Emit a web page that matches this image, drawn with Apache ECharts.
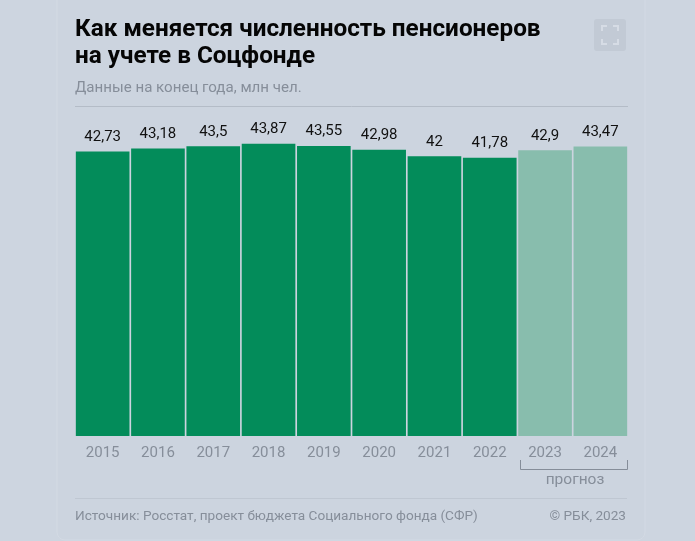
<!DOCTYPE html>
<html lang="ru">

<head>
    <meta charset="UTF-8">
    <title>Как меняется численность пенсионеров на учете в Соцфонде</title>
    <script src="https://cdn.jsdelivr.net/npm/echarts@6/dist/echarts.min.js"></script>
    <style>
        body,
        html {
            margin: 0;
            padding: 0;
            height: 100%;
            background: #cdd5e0;
        }

        #main {
            width: 695px;
            height: 541px;
        }
    </style>
</head>

<body>
    <div id="main"></div>
    <script>
        var years = ['2015', '2016', '2017', '2018', '2019', '2020', '2021', '2022', '2023', '2024'];
        var values = [42.73, 43.18, 43.5, 43.87, 43.55, 42.98, 42, 41.78, 42.9, 43.47];
        var forecast = ['2023', '2024'];

        var barData = [];
        for (var i = 0; i < years.length; i++) {
            barData.push({
                value: values[i],
                itemStyle: {
                    color: forecast.indexOf(years[i]) == -1 ? '#038c5a' : '#88bdad'
                }
            });
        }

        var fontName = 'Roboto';
        var grey = '#868e9a';

        var myChart = echarts.init(document.getElementById('main'));
        var option = {
            backgroundColor: '#cdd5e0',
            animation: false,
            textStyle: { fontFamily: fontName },
            title: [
                {
                    text: 'Как меняется численность пенсионеров\nна учете в Соцфонде',
                    left: 75,
                    top: 16,
                    padding: 0,
                    textStyle: {
                        fontFamily: fontName,
                        fontSize: 24.3,
                        fontWeight: 700,
                        lineHeight: 27,
                        color: '#050505'
                    }
                },
                {
                    text: 'Данные на конец года, млн чел.',
                    left: 75,
                    top: 81,
                    padding: 0,
                    textStyle: {
                        fontFamily: fontName,
                        fontSize: 15.1,
                        fontWeight: 400,
                        color: grey
                    }
                },
                {
                    text: 'Источник: Росстат, проект бюджета Социального фонда (СФР)',
                    left: 75,
                    top: 510,
                    padding: 0,
                    textStyle: {
                        fontFamily: fontName,
                        fontSize: 13.6,
                        fontWeight: 400,
                        color: grey
                    }
                },
                {
                    text: '© РБК, 2023',
                    right: 69,
                    top: 510,
                    padding: 0,
                    textStyle: {
                        fontFamily: fontName,
                        fontSize: 13.6,
                        fontWeight: 400,
                        color: grey
                    }
                }
            ],
            grid: {
                left: 75,
                right: 67,
                top: 103,
                bottom: 105
            },
            xAxis: {
                type: 'category',
                data: years,
                axisLine: { show: false },
                axisTick: { show: false },
                axisLabel: {
                    margin: 10,
                    fontSize: 15,
                    fontFamily: fontName,
                    color: grey
                }
            },
            yAxis: {
                type: 'value',
                min: 0,
                max: 50,
                show: false
            },
            series: [{
                type: 'bar',
                data: barData,
                barCategoryGap: '3%',
                label: {
                    show: true,
                    position: 'top',
                    distance: 7,
                    fontSize: 15,
                    fontFamily: fontName,
                    color: '#111111',
                    formatter: function (params) {
                        return String(params.value).replace('.', ',');
                    }
                }
            }],
            graphic: [
                // карточка
                {
                    type: 'rect',
                    z: -10,
                    shape: { x: 57, y: -10, width: 588, height: 550, r: 8 },
                    style: { fill: '#ccd4df', stroke: '#d3dae4', lineWidth: 1 }
                },
                // линии-разделители
                {
                    type: 'line',
                    shape: { x1: 75, y1: 106.5, x2: 628, y2: 106.5 },
                    style: { stroke: '#b4bcc7', lineWidth: 1 }
                },
                {
                    type: 'line',
                    shape: { x1: 75, y1: 498.5, x2: 627, y2: 498.5 },
                    style: { stroke: '#bfc7d2', lineWidth: 1 }
                },
                // кнопка
                {
                    type: 'rect',
                    shape: { x: 594, y: 19, width: 32, height: 32, r: 3 },
                    style: { fill: '#c2cad5' }
                },
                {
                    type: 'polyline',
                    shape: { points: [[602, 31], [602, 26], [607, 26]] },
                    style: { stroke: '#d6dce5', lineWidth: 2, fill: null }
                },
                {
                    type: 'polyline',
                    shape: { points: [[613, 26], [618, 26], [618, 31]] },
                    style: { stroke: '#d6dce5', lineWidth: 2, fill: null }
                },
                {
                    type: 'polyline',
                    shape: { points: [[602, 39], [602, 44], [607, 44]] },
                    style: { stroke: '#d6dce5', lineWidth: 2, fill: null }
                },
                {
                    type: 'polyline',
                    shape: { points: [[613, 44], [618, 44], [618, 39]] },
                    style: { stroke: '#d6dce5', lineWidth: 2, fill: null }
                },
                // скобка "прогноз"
                {
                    type: 'polyline',
                    shape: { points: [[520.5, 460], [520.5, 469.5], [627.5, 469.5], [627.5, 460]] },
                    style: { stroke: '#858d99', lineWidth: 1, fill: null }
                },
                {
                    type: 'text',
                    style: {
                        x: 575,
                        y: 472,
                        text: 'прогноз',
                        align: 'center',
                        fontFamily: fontName,
                        fontSize: 15.5,
                        fill: grey
                    }
                }
            ]
        };
        myChart.setOption(option);
    </script>
</body>

</html>
